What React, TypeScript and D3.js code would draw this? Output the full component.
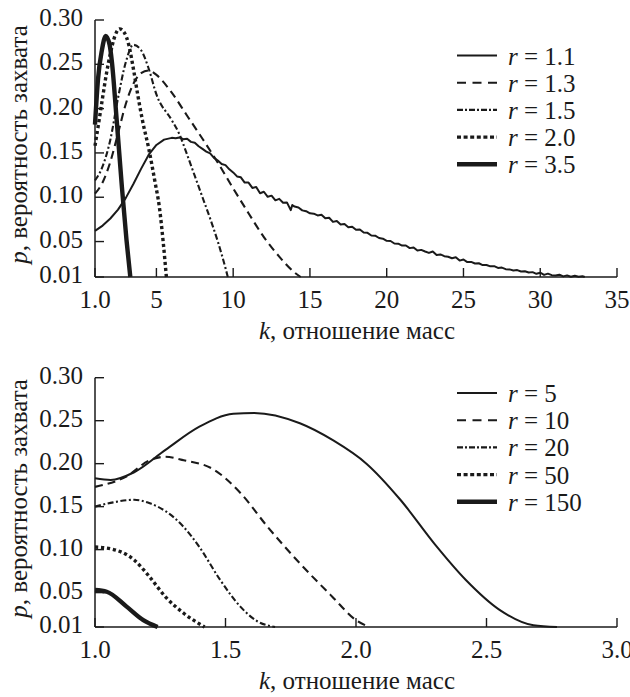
import React from "react";
import * as d3 from "d3";

// ---------- DATA ----------
// Top panel: k (mass ratio) vs p (capture probability)
const topLegend = ["1.1", "1.3", "1.5", "2.0", "3.5"];
const r11: [number, number][] = [
  [1.0, 0.062], [1.5, 0.068], [2.0, 0.076], [2.5, 0.086], [3.0, 0.099], [3.5, 0.115],
  [4.0, 0.132], [4.5, 0.148], [5.0, 0.159], [5.5, 0.165],
  [6.0, 0.167], [6.25, 0.1665], [6.5, 0.1675], [6.75, 0.1655], [7.0, 0.166], [7.25, 0.1625],
  [7.5, 0.1615], [7.75, 0.1575], [8.0, 0.1545], [8.25, 0.1515], [8.5, 0.1495], [8.75, 0.1445],
  [9.0, 0.1415], [9.25, 0.1375], [9.5, 0.1362], [9.75, 0.1315], [10.0, 0.128], [10.25, 0.1235],
  [10.5, 0.1225], [10.75, 0.1165], [11.0, 0.1165], [11.25, 0.1105], [11.5, 0.1115], [11.75, 0.1045],
  [12.0, 0.1062], [12.25, 0.1005], [12.5, 0.1018], [12.75, 0.0965], [13.0, 0.0982], [13.25, 0.0938],
  [13.5, 0.0942], [13.75, 0.0855], [13.85, 0.0912], [14.0, 0.0895], [14.25, 0.0885], [14.5, 0.0852],
  [14.75, 0.0842], [15.0, 0.0818], [15.25, 0.0815], [15.5, 0.0795], [15.75, 0.0802], [16.0, 0.0762],
  [16.25, 0.0768], [16.5, 0.0722], [16.75, 0.0732], [17.0, 0.0692], [17.25, 0.0698], [17.5, 0.0662],
  [17.75, 0.0668], [18.0, 0.0632], [18.25, 0.0636], [18.5, 0.0602], [18.75, 0.0598], [19.0, 0.0568],
  [19.25, 0.0566], [19.5, 0.054], [19.75, 0.0532], [20.0, 0.0508], [20.25, 0.0506], [20.5, 0.0478],
  [20.75, 0.0476], [21.0, 0.0455], [21.25, 0.0456], [21.5, 0.0426], [21.75, 0.0434], [22.0, 0.0398],
  [22.25, 0.0406], [22.5, 0.0388], [22.75, 0.0372], [23.0, 0.0388], [23.25, 0.0348], [23.5, 0.0355],
  [23.75, 0.0335], [24.0, 0.0328], [24.25, 0.0312], [24.5, 0.0322], [24.75, 0.0285], [25.0, 0.0298],
  [25.25, 0.0268], [25.5, 0.027], [25.75, 0.0252], [26.0, 0.0255], [26.25, 0.0235], [26.5, 0.0236],
  [26.75, 0.022], [27.0, 0.0222], [27.25, 0.0202], [27.5, 0.0206], [27.75, 0.0188], [28.0, 0.0186],
  [28.25, 0.0174], [28.5, 0.0178], [28.75, 0.0162], [29.0, 0.0165], [29.25, 0.0151], [29.5, 0.0155],
  [29.75, 0.0136], [30.0, 0.0148], [30.25, 0.0124], [30.5, 0.0138], [30.75, 0.0121], [31.0, 0.0116],
  [31.25, 0.0126], [31.5, 0.0107], [31.75, 0.0118], [32.0, 0.0103], [32.25, 0.0114], [32.5, 0.0102],
  [32.75, 0.0109], [32.9, 0.01],
];
const r13: [number, number][] = [
  [1, 0.104], [1.5, 0.117], [2, 0.14], [2.5, 0.172], [3, 0.205], [3.5, 0.228], [4, 0.24],
  [4.5, 0.243], [5, 0.238], [6, 0.218], [7, 0.192], [8, 0.166], [9, 0.139], [10, 0.11],
  [11, 0.082], [12, 0.055], [13, 0.033], [14, 0.015], [14.4, 0.01],
];
const r15: [number, number][] = [
  [1, 0.119], [1.5, 0.135], [2, 0.165], [2.5, 0.212], [3, 0.252], [3.5, 0.272], [4, 0.266],
  [4.5, 0.245], [5, 0.216], [6, 0.187], [6.5, 0.171], [7, 0.148], [7.5, 0.124], [8, 0.1],
  [8.5, 0.076], [9, 0.05], [9.5, 0.02], [9.65, 0.01],
];
const r20: [number, number][] = [
  [1, 0.158], [1.25, 0.185], [1.5, 0.213], [1.75, 0.24], [2, 0.262], [2.3, 0.282], [2.6, 0.29],
  [2.9, 0.286], [3.2, 0.272], [3.5, 0.245], [3.8, 0.214], [4.1, 0.186], [4.5, 0.155],
  [4.9, 0.118], [5.2, 0.088], [5.45, 0.048], [5.65, 0.01],
];
const r35: [number, number][] = [
  [1, 0.182], [1.2, 0.234], [1.45, 0.266], [1.7, 0.282], [1.95, 0.272], [2.1, 0.253],
  [2.4, 0.19], [2.75, 0.112], [3.05, 0.052], [3.3, 0.01],
];
const topXTicks = [1, 5, 10, 15, 20, 25, 30, 35];
const topXTickLabels = ["1.0", "5", "10", "15", "20", "25", "30", "35"];

// Bottom panel
const bottomLegend = ["5", "10", "20", "50", "150"];
const r5: [number, number][] = [
  [1, 0.183], [1.06, 0.181], [1.15, 0.19], [1.27, 0.216], [1.4, 0.243], [1.53, 0.258],
  [1.61, 0.259], [1.785, 0.247], [1.913, 0.227], [2.04, 0.2], [2.17, 0.158], [2.3, 0.107],
  [2.42, 0.065], [2.55, 0.03], [2.68, 0.012], [2.77, 0.01],
];
const r10: [number, number][] = [
  [1, 0.173], [1.12, 0.185], [1.21, 0.204], [1.27, 0.208], [1.34, 0.204], [1.45, 0.194],
  [1.56, 0.165], [1.66, 0.127], [1.785, 0.084], [1.91, 0.045], [2.0, 0.018], [2.05, 0.01],
];
const r20b: [number, number][] = [
  [1, 0.15], [1.07, 0.155], [1.15, 0.158], [1.21, 0.154], [1.338, 0.127], [1.4, 0.103],
  [1.479, 0.065], [1.556, 0.034], [1.62, 0.017], [1.69, 0.01],
];
const r50: [number, number][] = [
  [1, 0.103], [1.06, 0.101], [1.15, 0.088], [1.21, 0.068], [1.27, 0.045], [1.34, 0.026],
  [1.42, 0.01],
];
const r150: [number, number][] = [
  [1, 0.053], [1.045, 0.051], [1.12, 0.034], [1.185, 0.018], [1.24, 0.01],
];
const bottomXTicks = [1, 1.5, 2, 2.5, 3];
const bottomXTickLabels = ["1.0", "1.5", "2.0", "2.5", "3.0"];

const yTicks = [0.01, 0.05, 0.1, 0.15, 0.2, 0.25, 0.3];
const yTickLabels = ["0.01", "0.05", "0.10", "0.15", "0.20", "0.25", "0.30"];

// ---------- STYLES ----------
const INK = "#1a1a1a";
type LineStyle = { width: number; dash?: string; legendDash?: string };
const styles: LineStyle[] = [
  { width: 2 },
  { width: 2.1, dash: "8 5", legendDash: "9 6.5" },
  { width: 2.1, dash: "6 2.5 2 2.5", legendDash: "6 2 2 2" },
  { width: 3.4, dash: "3.2 2.8", legendDash: "4 2.6" },
  { width: 4.4 },
];

const CSS = `
  .lbl { font-family: "Liberation Serif"; fill: ${INK}; font-size: 25px; }
  .it { font-style: italic; }
`;

type PanelProps = {
  series: [number, number][][];
  linearFirst?: boolean;
  legend: string[];
  xDomain: [number, number];
  xTicks: number[];
  xTickLabels: string[];
  top: number;
  bottom: number;
  legendY0: number;
};

function Panel(p: PanelProps) {
  const x = d3.scaleLinear().domain(p.xDomain).range([95, 617]);
  const y = d3.scaleLinear().domain([0.01, 0.3]).range([p.bottom, p.top]);
  const smooth = d3
    .line<[number, number]>()
    .x((d) => x(d[0]))
    .y((d) => y(d[1]))
    .curve(d3.curveMonotoneX);
  const straight = d3
    .line<[number, number]>()
    .x((d) => x(d[0]))
    .y((d) => y(d[1]));
  const xTitleY = p.bottom + 62;
  const yTitleCx = (p.top + p.bottom) / 2 - 4;
  return (
    <g>
      {p.series.map((s, i) => (
        <path
          key={i}
          d={(p.linearFirst && i === 0 ? straight : smooth)(s) || ""}
          fill="none"
          stroke={INK}
          strokeWidth={styles[i].width}
          strokeDasharray={styles[i].dash}
          strokeLinejoin="round"
        />
      ))}
      <line x1={95} x2={95} y1={p.top} y2={p.bottom} stroke={INK} strokeWidth={1.5} />
      <line x1={95} x2={617} y1={p.bottom} y2={p.bottom} stroke={INK} strokeWidth={1.5} />
      {yTicks.map((t, i) => (
        <g key={"y" + i}>
          <line x1={95} x2={104} y1={y(t)} y2={y(t)} stroke={INK} strokeWidth={1.4} />
          <text className="lbl" x={83} y={y(t) + 6} textAnchor="end">
            {yTickLabels[i]}
          </text>
        </g>
      ))}
      {p.xTicks.map((t, i) => (
        <g key={"x" + i}>
          <line x1={x(t)} x2={x(t)} y1={p.bottom} y2={p.bottom - 9} stroke={INK} strokeWidth={1.4} />
          <text className="lbl" x={x(t)} y={p.bottom + 31} textAnchor="middle">
            {p.xTickLabels[i]}
          </text>
        </g>
      ))}
      <text className="lbl" x={357} y={xTitleY} textAnchor="middle">
        <tspan className="it">k</tspan>, отношение масс
      </text>
      <text
        className="lbl"
        transform={`translate(27,${yTitleCx}) rotate(-90)`}
        textAnchor="middle"
      >
        <tspan className="it">p</tspan>, вероятность захвата
      </text>
      {p.legend.map((lab, i) => {
        const ly = p.legendY0 + i * 27.2;
        return (
          <g key={"l" + i}>
            <line
              x1={457}
              x2={497}
              y1={ly}
              y2={ly}
              stroke={INK}
              strokeWidth={styles[i].width}
              strokeDasharray={styles[i].legendDash}
            />
            <text className="lbl" x={508} y={ly + 9}>
              <tspan className="it">r</tspan> = {lab}
            </text>
          </g>
        );
      })}
    </g>
  );
}

export default function App() {
  return (
    <svg
      width={630}
      height={697}
      style={{ position: "absolute", left: 0, top: 0, background: "#fff" }}
    >
      <style>{CSS}</style>
      <rect width={630} height={697} fill="#fff" />
      <Panel
        series={[r11, r13, r15, r20, r35]}
        linearFirst
        legend={topLegend}
        xDomain={[1, 35]}
        xTicks={topXTicks}
        xTickLabels={topXTickLabels}
        top={20}
        bottom={277}
        legendY0={55.5}
      />
      <Panel
        series={[r5, r10, r20b, r50, r150]}
        legend={bottomLegend}
        xDomain={[1, 3]}
        xTicks={bottomXTicks}
        xTickLabels={bottomXTickLabels}
        top={377.7}
        bottom={627}
        legendY0={393}
      />
    </svg>
  );
}
